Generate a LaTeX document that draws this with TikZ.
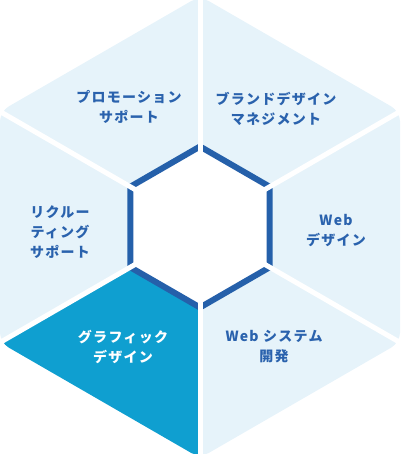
\documentclass[tikz,border=0pt]{standalone}
\usepackage{fontspec}
\newfontfamily\jp{Noto Sans CJK JP}[LetterSpace=9]
\definecolor{lightfill}{HTML}{E6F3FA}
\definecolor{hifill}{HTML}{0F9FD0}
\definecolor{darkline}{HTML}{2560AA}
\definecolor{textblue}{HTML}{2A62AD}
\tikzset{
  lbl/.style={align=center, text=textblue, font=\jp\bfseries\fontsize{14}{20}\selectfont, inner sep=0pt},
  lblw/.style={lbl, text=white},
  sep/.style={draw=white, line width=5pt},
}
\begin{document}
\begin{tikzpicture}[x=1pt,y=1pt]
\useasboundingbox (0,0) rectangle (400,454);
\begin{scope}[shift={(200,227)}]
  \def\outerhex{(90:231) -- (30:231) -- (-30:231) -- (-90:231) -- (-150:231) -- (150:231) -- cycle}
  \fill[lightfill, rounded corners=10pt] \outerhex;
  \begin{scope}
    \clip (0,0) -- (210:600) -- (270:600) -- cycle;
    \fill[hifill, rounded corners=10pt] \outerhex;
  \end{scope}
  \filldraw[fill=white, draw=darkline, line width=6pt]
    (90:80.5) -- (30:80.5) -- (-30:80.5) -- (-90:80.5) -- (-150:80.5) -- (150:80.5) -- cycle;
  \coordinate (c) at (0,0);
  \foreach \a/\n in {90/t,30/ur,-30/lr,-90/b,-150/ll,150/ul}{
    \coordinate (o\n) at (\a:260);
    \draw[sep] (c) -- (o\n);
  }
\end{scope}
\node[lbl] (promo) at (129,347) {プロモーション\\サポート};
\node[lbl] (brand) at (276,345) {ブランドデザイン\\マネジメント};
\node[lbl] (webd) at (336,223) {Web\\デザイン};
\node[lbl] (webs) at (274,107) {Web システム\\開発};
\node[lblw] (graph) at (123,107) {グラフィック\\デザイン};
\node[lbl] (recr) at (60,222) {リクルー\\ティング\\サポート};
\end{tikzpicture}
\end{document}
